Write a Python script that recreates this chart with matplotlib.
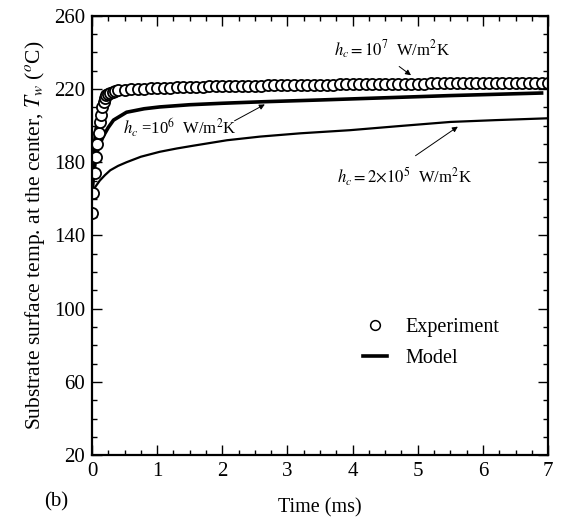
import matplotlib
matplotlib.use("Agg")
import matplotlib.pyplot as plt
from matplotlib.lines import Line2D
from matplotlib.ticker import MultipleLocator

plt.rcParams['font.family'] = ['Liberation Serif', 'DejaVu Serif']
plt.rcParams['mathtext.fontset'] = 'stix'

# experiment (circles)
t_exp = [0.0, 0.02, 0.04, 0.06, 0.08, 0.10, 0.12, 0.14, 0.16, 0.18, 0.20, 0.22,
         0.25, 0.28, 0.32, 0.36,
         0.4, 0.5, 0.6, 0.7, 0.8, 0.9, 1.0, 1.1, 1.2, 1.3, 1.4, 1.5, 1.6, 1.7,
         1.8, 1.9, 2.0, 2.1, 2.2, 2.3, 2.4, 2.5, 2.6, 2.7, 2.8, 2.9, 3.0, 3.1,
         3.2, 3.3, 3.4, 3.5, 3.6, 3.7, 3.8, 3.9, 4.0, 4.1, 4.2, 4.3, 4.4, 4.5,
         4.6, 4.7, 4.8, 4.9, 5.0, 5.1, 5.2, 5.3, 5.4, 5.5, 5.6, 5.7, 5.8, 5.9,
         6.0, 6.1, 6.2, 6.3, 6.4, 6.5, 6.6, 6.7, 6.8, 6.9, 7.0]
T_exp = [152, 163, 174, 183, 190, 196, 202, 206, 210, 213, 215, 216.5,
         217.5, 218, 218.5, 219,
         219.2, 219.5, 219.8, 220.0, 220.2, 220.4, 220.6, 220.7, 220.8, 220.9, 221.0, 221.1, 221.2, 221.3,
         221.4, 221.5, 221.5, 221.6, 221.7, 221.7, 221.8, 221.9, 221.9, 222.0, 222.0, 222.1, 222.1, 222.2,
         222.2, 222.3, 222.3, 222.4, 222.4, 222.4, 222.5, 222.5, 222.6, 222.6, 222.6, 222.7, 222.7, 222.7,
         222.8, 222.8, 222.8, 222.9, 222.9, 222.9, 223.0, 223.0, 223.0, 223.1, 223.1, 223.1, 223.2, 223.2,
         223.2, 223.3, 223.3, 223.3, 223.3, 223.4, 223.4, 223.4, 223.5, 223.5, 223.5]

# model, hc = 1e7
t_m7 = [0, 0.02, 0.05, 0.1, 0.15, 0.2, 0.3, 0.5, 0.8, 1, 1.5, 2, 3, 4, 5, 6, 6.9]
T_m7 = [163, 180, 195, 207, 212, 215, 217, 218.5, 219.3, 219.7, 220.3, 220.7, 221.2, 221.6, 221.9, 222.1, 222.3]

# model, hc = 1e6
t_m6 = [0, 0.02, 0.06, 0.1, 0.17, 0.25, 0.33, 0.53, 0.8, 1.04, 1.5, 2, 2.6, 3.5, 4.5, 5.5, 6.9]
T_m6 = [163, 172, 183, 188, 194, 199, 203, 207.3, 209.2, 210.2, 211.4, 212.2, 213, 214, 215.2, 216.4, 217.8]

# model, hc = 2e5
t_m5 = [0, 0.05, 0.12, 0.2, 0.28, 0.4, 0.53, 0.75, 1.04, 1.3, 1.55, 2.07, 2.58, 3.2, 3.96, 4.7, 5.5, 6.2, 7.0]
T_m5 = [163, 166.5, 170, 173, 175.6, 178, 180, 183, 185.7, 187.5, 189, 192, 194, 195.8, 197.5, 199.7, 202, 203, 204]

y_ticks = [20, 60, 100, 140, 180, 220, 260]

fig = plt.figure(figsize=(5.61, 5.25), dpi=100)
ax = fig.add_axes([0.164, 0.133, 0.813, 0.837])

ax.plot(t_m5, T_m5, color='black', lw=1.6)
ax.plot(t_m6, T_m6, color='black', lw=2.6)
ax.plot(t_m7, T_m7, color='black', lw=2.6)
ax.plot(t_exp, T_exp, 'o', mfc='white', mec='black', ms=8, mew=1.3)

ax.set_xlim(0, 7)
ax.set_ylim(20, 260)
ax.xaxis.set_major_locator(MultipleLocator(1))
ax.xaxis.set_minor_locator(MultipleLocator(0.25))
ax.set_yticks(y_ticks)
ax.yaxis.set_minor_locator(MultipleLocator(10))
ax.tick_params(which='both', direction='in', top=True, right=True, labelsize=15, width=1)
ax.tick_params(which='major', length=7, pad=5)
ax.tick_params(which='minor', length=3.5)
for s in ax.spines.values():
    s.set_linewidth(1.6)

ax.set_xlabel('Time (ms)', fontsize=14.5, labelpad=12)
ax.set_ylabel(r'Substrate surface temp. at the center, $T_w$ ($^o$C)', fontsize=15.5, labelpad=5)
fig.text(0.10, 0.035, '(b)', fontsize=15, ha='center')

arr = dict(arrowstyle='-|>', color='black', lw=0.7, mutation_scale=8)
ax.annotate('', xy=(4.93, 226.6), xytext=(4.68, 233.2), arrowprops=arr)
ax.text(3.72, 241.4, r'$h_c = 10^7$  W/m$^2$K', fontsize=12, va='center')
ax.annotate('', xy=(2.69, 212.3), xytext=(2.15, 201.9), arrowprops=arr)
ax.text(0.48, 198.6, r'$h_c$ =10$^6$  W/m$^2$K', fontsize=12, va='center')
ax.annotate('', xy=(5.65, 200.3), xytext=(4.93, 182.7), arrowprops=arr)
ax.text(3.76, 171.8, r'$h_c = 2{\times}10^5$  W/m$^2$K', fontsize=12, va='center')

handles = [Line2D([], [], ls='none', marker='o', mfc='white', mec='black', ms=7, mew=1.1),
           Line2D([], [], color='black', lw=2.6)]
ax.legend(handles, ['Experiment', 'Model'], loc='center left', bbox_to_anchor=(0.555, 0.255),
          frameon=False, fontsize=14.5, handlelength=1.2, handletextpad=0.9, labelspacing=0.6)

fig.savefig('out.png', dpi=100)
